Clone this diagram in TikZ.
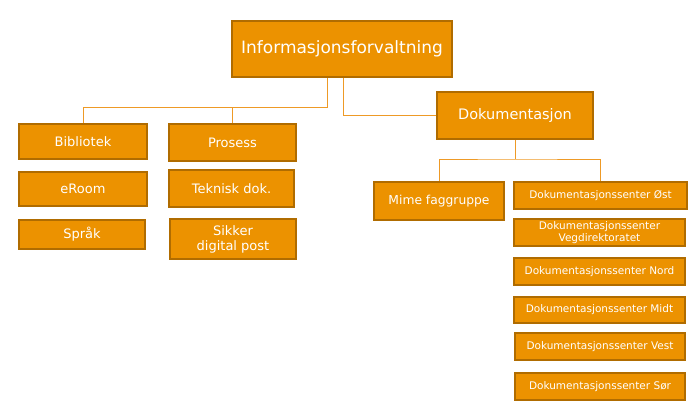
\documentclass[tikz,border=0pt]{standalone}
\usepackage{fontspec}
\setsansfont{DejaVu Sans}
\usetikzlibrary{positioning, calc}
\definecolor{corange}{HTML}{EC9200}
\definecolor{cbrown}{HTML}{B06C00}
\definecolor{cline}{HTML}{EE9A26}
\tikzset{
  every picture/.style={font=\sffamily, line width=0.8pt},
  box/.style={draw=cbrown, fill=corange, line width=1.6pt, text=white, align=center, inner sep=2pt},
  link/.style={draw=cline, line width=1pt},
}
\begin{document}
\begin{tikzpicture}[x=1pt, y=-1pt,
                    big/.style={box, font=\sffamily\fontsize{13}{15}\selectfont},
                    small/.style={box, font=\sffamily\fontsize{10.5}{12}\selectfont, minimum width=171pt, minimum height=27pt}]
  \useasboundingbox (0,0) rectangle (689,404);
  % top
  \node[box, font=\sffamily\fontsize{17}{19}\selectfont, minimum width=220pt, minimum height=56pt] (info) at (342,49) {Informasjonsforvaltning};
  % left branch
  \node[big, minimum width=128pt, minimum height=35pt] (bib) at (83,141.5) {Bibliotek};
  \node[big, minimum width=128pt, minimum height=34pt] (eroom) at (83,189) {eRoom};
  \node[big, minimum width=126pt, minimum height=29pt] (sprak) at (82,234.5) {Språk};
  \node[big, minimum width=127pt, minimum height=37pt] (pros) at (232.5,142.5) {Prosess};
  \node[big, minimum width=125pt, minimum height=37pt] (tek) at (231.5,188.5) {Teknisk dok.};
  \node[big, minimum width=126pt, minimum height=40pt] (sik) at (233,239) {Sikker\\digital post};
  % right branch
  \node[box, font=\sffamily\fontsize{14.5}{17}\selectfont, minimum width=156pt, minimum height=47pt] (dok) at (515,115.5) {Dokumentasjon};
  \node[box, font=\sffamily\fontsize{12.3}{14}\selectfont, minimum width=130pt, minimum height=38pt] (mime) at (439,201) {Mime faggruppe};
  \node[small, minimum width=173pt] (ost) at (600.5,195.5) {Dokumentasjonssenter Øst};
  \node[small] (veg) at (599.5,232.5) {Dokumentasjonssenter\\Vegdirektoratet};
  \node[small] (nord) at (599.5,271.5) {Dokumentasjonssenter Nord};
  \node[small, minimum height=26pt] (midt) at (599.5,310) {Dokumentasjonssenter Midt};
  \node[small, minimum width=170pt] (vest) at (600,346.5) {Dokumentasjonssenter Vest};
  \node[small, minimum width=170pt] (sor) at (600,386.5) {Dokumentasjonssenter Sør};
  % connectors
  \coordinate (lbus) at (327,108);
  \coordinate (rbus) at (343,115);
  \coordinate (dbus) at (515,159);
  \draw[link] (info.south -| lbus) -- (lbus) -| (bib.north);
  \draw[link] (pros.north) -- (pros.north |- lbus);
  \draw[link] (info.south -| rbus) |- (dok.west);
  \draw[link] (dok.south) -- (dbus);
  \draw[link] (mime.north) |- (dbus) -| (ost.north);
\end{tikzpicture}
\end{document}
